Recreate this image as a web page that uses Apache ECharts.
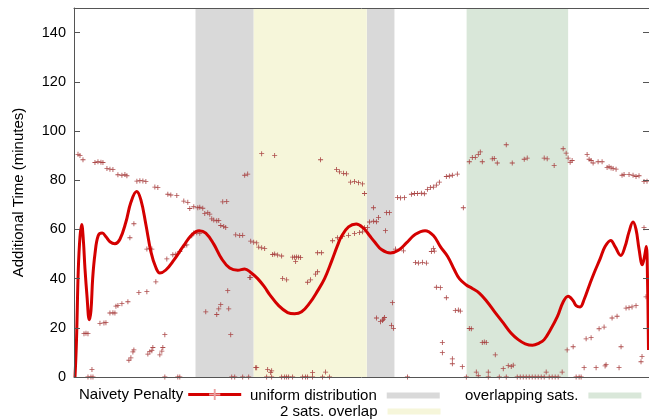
<!DOCTYPE html>
<html>
<head>
<meta charset="utf-8">
<script src="https://cdn.jsdelivr.net/npm/echarts@6/dist/echarts.min.js"></script>
<style>html,body{margin:0;padding:0;background:#fff}#c{width:649px;height:419px}</style>
</head>
<body>
<div id="c"></div>
<script>
// ---- data (x in plot units 0..576, y in minutes) ----
var yTicks = [0, 20, 40, 60, 80, 100, 120, 140];
var bandUniform = [[121.7, 180], [293.3, 321]];
var bandTwoSats = [[180, 293.3]];
var bandOverlapping = [[393.3, 495]];

var penaltyX = [1,2.5,4.3,6,7.7,9.3,11,13,15.3,17,18.7,21,24.3,28.3,32,36,41,46,52,57,62.7,67,72,77,82,86,92,100,110,118,125.3,132,140,148,156,164,171,177,184,191,196,205,214,221,228,236,244,251,258,264,268,275,282.7,290,296,301,308,317,325,333,342,351.7,360,367,374.3,381,386,392.7,399,406,414,421,430,437.7,445,452,459.3,466,471,477,484.3,490,495,500,503,507,511,516,521,527,532,537.7,542,547.7,552,556,560,563,566,569.3,571.5,573.3,574.5,575.5];
var penaltyY = [0,15,43.6,57,62,56,44,33,23.3,27,40,50,57.5,58.5,57,55,54.2,56,63,71,75.4,72,62,51,44.5,42.3,43.5,47.5,53.5,57.8,59.5,58.5,54,48,44.3,43.4,43.9,42.5,40,36.5,33.5,29,26.2,25.7,26.5,30,35,40,47,53.5,57.2,61,62.2,60.5,57.5,55,51.8,50.4,51.5,54.5,58,59.5,57.5,53,49,43.6,40,37.5,36,34.1,30.5,26.7,22,17.9,15.2,13.5,12.9,13.8,15.2,19,24.6,30.5,32.8,31,29,28.5,31.5,37,42.3,48,53,55.5,53,49.4,53,59,63,60,52,45.6,49,53,40,11];

var sampleX = [4,6,9,21,24,27,29,33,36,39,44,48,51,53,63,66,69,72,81,84,94,97,103,110,114,116,120,124,126,129,131,134,136,138,140,143,145,147,150,152,149,153,162,166,169,171,174,177,180,183,185,188,191,199,201,204,208,219,221,223,225,227,222,244,248,259,
120,123,126,
188,201,247,263,266,270,273,277,281,285,289,291,300,305,296,300,303,313,316,312,291,294,264,269,275,281,286,289,
176,209,213,234,237,242,244,
324,327,331,338,341,344,348,351,354,357,360,363,366,373,376,379,384,390,
396,399,402,405,407,409,419,421,424,433,439,451,454,471,474,481,490,493,495,497,499,
514,516,518,520,525,529,534,536,538,540,543,549,551,556,560,563,566,571,574,
322,330,334,342,345,349,353,358,360,361,363,367,373,382,385,387,369,369,379,379,389,
303,307,309,310,311,319,318,320,
396,398,393,403,405,409,411,413,415,415,422,426,430,433,435,438,440,444,447,450,453,456,459,462,465,468,471,473,476,479,482,485,489,494,500,503,506,508,511,513,518,523,526,531,532,533,539,544,546,548,553,556,559,563,568,569,573,571,
10,12,14,18,14,17,19,26,30,32,36,39,41,42,44,48,54,65,73,82,93,99,102,106,111,113,118,73,76,78,56,60,55,57,59,60,74,76,78,79,86,88,89,91,91,104,106,
132,143,145,147,154,155,157,177,158,161,169,175,182,
183,194,197,198,239,252,193,198,208,211,213,215,219,229,232,234,239,249,256];
var sampleY = [90.5,90,88.3,87.2,87.5,87.3,87.2,84.8,84.5,84.3,82.2,82,82.3,81.8,79.6,79.8,79.7,79.5,77.2,77,74.3,74,73.8,71.5,71,68.5,69.2,68.8,69,68.6,66.5,66.8,66.2,64.3,63.8,63.5,63.6,61.6,61.2,60.8,71.2,71.3,57.8,57.5,57.6,82,82.5,55.2,54.8,54.5,52.8,52.5,52.2,49.8,50,49.6,49.2,48.7,48.7,48.8,48.7,48.6,47,50.5,50.5,55.4,
58.5,58.6,58.4,
90.8,90,88.3,84.3,83.4,82.8,82.6,79.2,79.5,79,78.5,74.6,68.8,64.8,63,63.3,63.1,66.8,66.8,59.5,60.7,60.8,56.6,57.2,57.6,58.3,58.7,59,
40.4,40,39.5,38.5,39.5,41.8,42.8,
73,72.8,72.9,74.3,74.6,74.6,74.7,74.5,76.3,77,77.2,78,79.2,81.5,81.7,82,82.5,68.8,
87.5,89.2,89.3,90.5,91.5,87.5,88.7,88.8,87,94.4,87,88.5,89,89,88.7,86,92.8,91,89,87.3,88,
90.4,88.5,88,87,87.5,87.5,85.2,85.5,85,84.8,84.5,82,82.3,82.3,82,81.5,81.8,79.5,79.6,
52,51.3,0,46.5,46.3,46.6,46.3,51,52.3,51.2,36.5,36.3,32.2,27,27.2,26.8,14,9.9,7.4,5.4,4.2,
24,22.5,23,23.5,24.2,30.2,21,19.8,
19.7,19.6,0,2,0.5,14,14.2,14,2,0,9,0,3.4,0,4.6,4.3,4.8,0,0,0,0,0,0,0,0,0,0,2,0,0,0,0,2,11,12.3,0,0,0,3.8,15.5,16,3.8,19.6,20.3,4.5,5,24,24.7,3.8,12.3,28,28.2,28.5,29,6.2,8.3,32.6,60.7,
17.6,17.8,17.6,3,0,0,0,21.8,22,22.1,26,26.1,26,28.8,29.1,29.8,30.6,34.3,34.7,38.7,48,49.7,49.9,51,53.5,53.7,57.4,52,52.3,52,56.6,62.3,6.8,7.8,10.2,11,9.3,10.3,10.7,12,9,10.5,12,17.2,0,0,0,
26.5,25.4,27.7,29.4,35.1,27.7,17.2,40.4,0,0,0,0,3.8,
3.8,3,1.8,2.5,1.8,2,0,0,0,0,0,0,0,0,0,0,0,0,0];

// ---- build ----
function pairs(xs, ys){ var o=[]; for(var i=0;i<xs.length;i++) o.push([xs[i], ys[i]]); return o; }
function areas(b){ return b.map(function(r){ return [{xAxis:r[0]},{xAxis:r[1]}]; }); }

var FONT = 'Liberation Sans, Arial, sans-serif';
var PLUS = 'path://M-0.5,-3H0.5V-0.5H3V0.5H0.5V3H-0.5V0.5H-3V-0.5H-0.5Z';
var C_GRAY = '#d9d9d9', C_YEL = '#f6f6da', C_GRN = '#d9e7d9';
var C_RED = '#d40000';

var chart = echarts.init(document.getElementById('c'), null, {renderer:'canvas'});
var legText = {fontSize:15, fontFamily:FONT, color:'#000'};
var legBoxText = {fontSize:15, fontFamily:FONT, color:'#000', padding:[0, 5, 0, 0]};
chart.setOption({
  animation:false,
  backgroundColor:'#fff',
  grid:{left:74, right:-2, top:8, bottom:42},
  xAxis:[
    {type:'value', min:0, max:576, position:'bottom', z:10,
     axisLine:{show:true, onZero:false, lineStyle:{color:'#555', width:1}},
     axisTick:{show:false}, axisLabel:{show:false}, splitLine:{show:false}},
    {type:'value', min:0, max:576, position:'top', z:10,
     axisLine:{show:true, onZero:false, lineStyle:{color:'#555', width:1}},
     axisTick:{show:false}, axisLabel:{show:false}, splitLine:{show:false}}
  ],
  yAxis:[
    {type:'value', min:0, max:150, interval:20, position:'left', z:10,
     name:'Additional Time (minutes)', nameLocation:'middle', nameGap:48,
     nameTextStyle:{fontSize:15, fontFamily:FONT, color:'#000'},
     axisLine:{show:true, onZero:false, lineStyle:{color:'#555', width:1}},
     axisTick:{show:true, inside:true, length:6, lineStyle:{color:'#555'}},
     axisLabel:{show:true, margin:8, fontSize:14.5, fontFamily:FONT, color:'#000', showMaxLabel:false,
       formatter:function(v){ return yTicks.indexOf(v) >= 0 ? String(v) : ''; }},
     splitLine:{show:false}},
    {type:'value', min:0, max:150, interval:20, position:'right', z:10,
     axisLine:{show:true, onZero:false, lineStyle:{color:'#555', width:1}},
     axisTick:{show:true, inside:true, length:6, lineStyle:{color:'#555'}},
     axisLabel:{show:false}, splitLine:{show:false}}
  ],
  legend:[
    {data:[{name:'Naivety Penalty'}], left:79, top:387, padding:0, align:'right', itemWidth:53, itemHeight:14,
     lineStyle:{width:3, color:C_RED}, itemStyle:{color:'#eaa0a0'},
     textStyle:legText, selectedMode:false},
    {data:[{name:'uniform distribution', icon:'rect'}], left:250, top:388, padding:0, align:'right', itemWidth:53, itemHeight:6,
     textStyle:legBoxText, selectedMode:false},
    {data:[{name:'overlapping sats.', icon:'rect'}], left:465, top:388, padding:0, align:'right', itemWidth:53, itemHeight:6,
     textStyle:legBoxText, selectedMode:false},
    {data:[{name:'2 sats. overlap', icon:'rect'}], left:280, top:404, padding:0, align:'right', itemWidth:53, itemHeight:6,
     textStyle:legBoxText, selectedMode:false}
  ],
  series:[
    {name:'uniform distribution', type:'line', data:[], z:1, itemStyle:{color:C_GRAY}, lineStyle:{color:C_GRAY},
     markArea:{silent:true, itemStyle:{color:C_GRAY}, data:areas(bandUniform)}},
    {name:'2 sats. overlap', type:'line', data:[], z:1, itemStyle:{color:C_YEL}, lineStyle:{color:C_YEL},
     markArea:{silent:true, itemStyle:{color:C_YEL}, data:areas(bandTwoSats)}},
    {name:'overlapping sats.', type:'line', data:[], z:1, itemStyle:{color:C_GRN}, lineStyle:{color:C_GRN},
     markArea:{silent:true, itemStyle:{color:C_GRN}, data:areas(bandOverlapping)}},
    {name:'samples', type:'scatter', z:3, symbol:PLUS, symbolSize:5, silent:true,
     itemStyle:{color:'#a53a3a', opacity:0.9}, data:pairs(sampleX, sampleY)},
    {name:'Naivety Penalty', type:'line', z:4, smooth:0.4, showSymbol:false, symbol:PLUS, symbolSize:7,
     itemStyle:{color:'#eaa0a0'}, lineStyle:{color:C_RED, width:3}, data:pairs(penaltyX, penaltyY)}
  ]
});
</script>
</body>
</html>
